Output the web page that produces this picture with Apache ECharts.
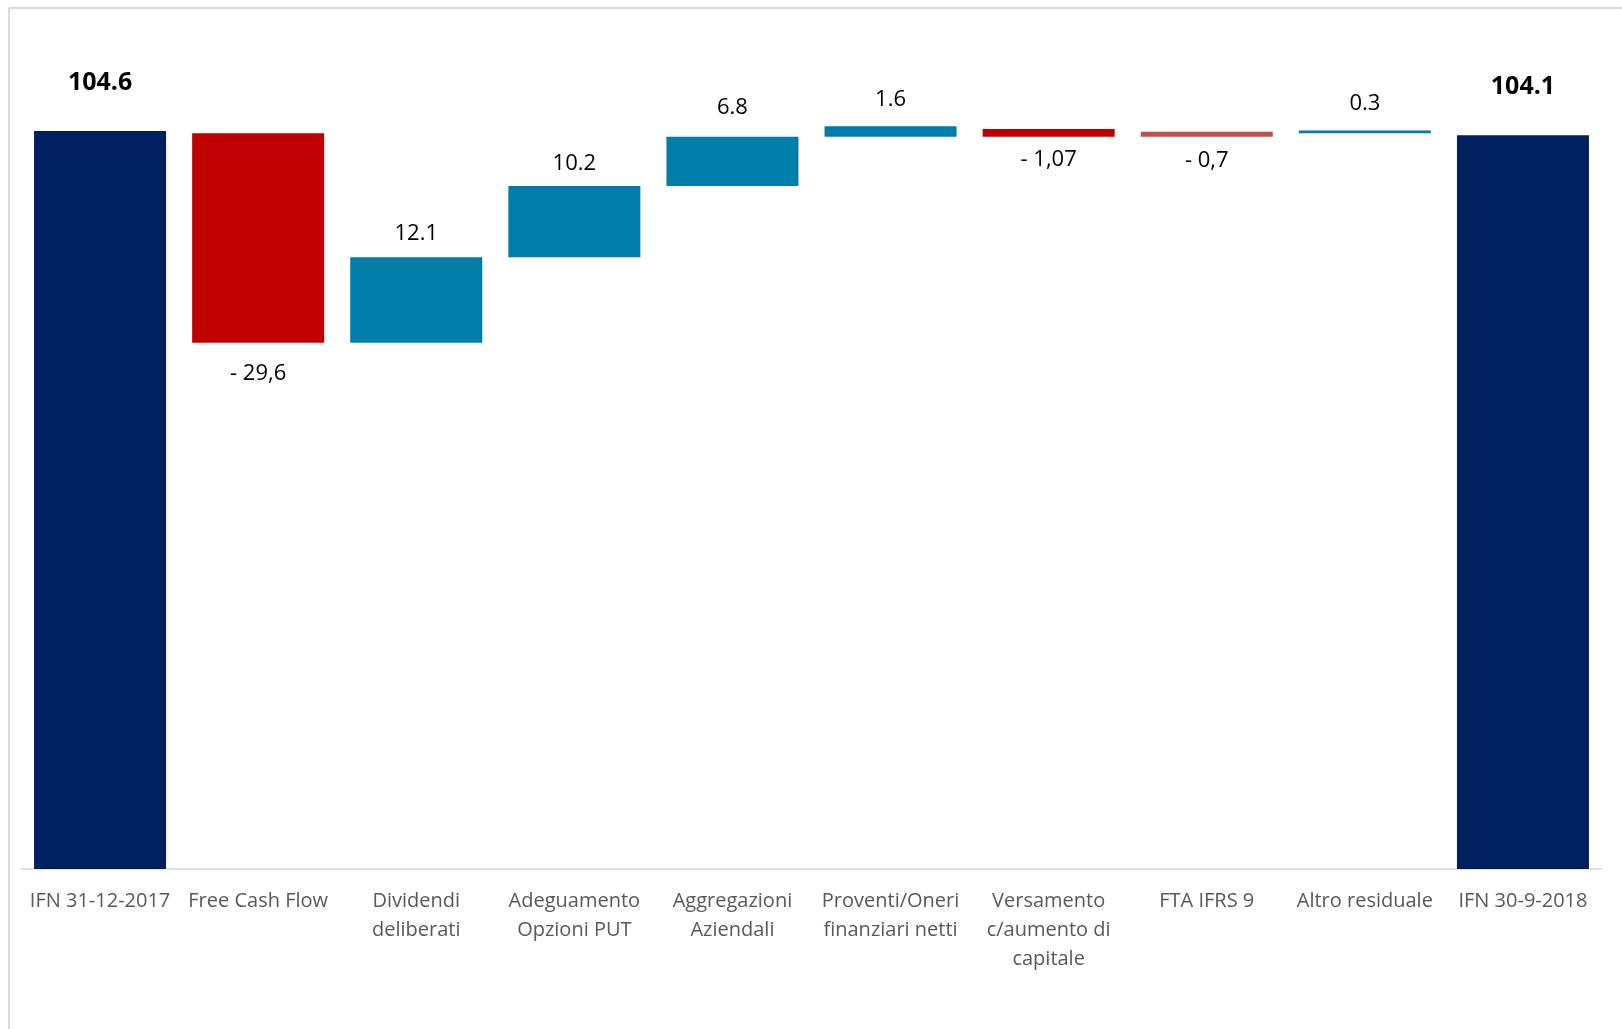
<!DOCTYPE html>
<html>
<head>
<meta charset="utf-8">
<script src="https://cdn.jsdelivr.net/npm/echarts@6/dist/echarts.min.js"></script>
<style>
  html, body { margin: 0; padding: 0; background: #fff; }
  #chart { width: 1622px; height: 1029px; }
</style>
</head>
<body>
<div id="chart"></div>
<script>
// categorie (a capo come nel grafico originale)
const categories = [
  "IFN 31-12-2017",
  "Free Cash Flow",
  "Dividendi\ndeliberati",
  "Adeguamento\nOpzioni PUT",
  "Aggregazioni\nAziendali",
  "Proventi/Oneri\nfinanziari netti",
  "Versamento\nc/aumento di\ncapitale",
  "FTA IFRS 9",
  "Altro residuale",
  "IFN 30-9-2018"
];
// variazioni
const values = [104.6, -29.6, 12.1, 10.2, 6.8, 1.6, -1.07, -0.7, 0.3, 104.1];
// etichette come scritte nel grafico
const valueLabels = ["104.6", "- 29,6", "12.1", "10.2", "6.8", "1.6", "- 1,07", "- 0,7", "0.3", "104.1"];
// estremi delle barre
const barLow = [0, 74.6, 74.6, 86.7, 96.8, 103.8, 103.8, 103.8, 104.3, 0];
const barHigh = [104.6, 104.3, 86.7, 96.8, 103.8, 105.3, 104.9, 104.5, 104.7, 104.0];

// stile
const colors = ["#002060", "#C00000", "#007DA8", "#007DA8", "#007DA8", "#007DA8", "#C00000", "#C0504D", "#007DA8", "#002060"];
const labelGap = [36, 20, 13, 11, 18, 15, 12, 13, 16, 36];

const chart = echarts.init(document.getElementById("chart"));

const deltaData = values.map((v, i) => {
  const total = i === 0 || i === values.length - 1;
  return {
    value: +(barHigh[i] - barLow[i]).toFixed(2),
    itemStyle: { color: colors[i] },
    label: {
      position: v < 0 ? "bottom" : "top",
      distance: labelGap[i],
      fontWeight: total ? "bold" : "normal",
      fontSize: total ? 25 : 22
    }
  };
});

chart.setOption({
  animation: false,
  textStyle: { fontFamily: "Open Sans" },
  graphic: [
    { type: "line", shape: { x1: 9, y1: 8, x2: 9, y2: 1029 }, style: { stroke: "#d9d9d9", lineWidth: 2 } },
    { type: "line", shape: { x1: 9, y1: 8, x2: 1622, y2: 8 }, style: { stroke: "#d9d9d9", lineWidth: 2 } }
  ],
  grid: { left: 21, right: 20, top: 93, bottom: 160 },
  xAxis: {
    type: "category",
    data: categories,
    axisLine: { lineStyle: { color: "#d9d9d9", width: 1.5 } },
    axisTick: { show: false },
    axisLabel: {
      color: "#595959",
      fontSize: 20,
      lineHeight: 29,
      margin: 18,
      interval: 0
    }
  },
  yAxis: {
    type: "value",
    min: 0,
    max: 110,
    show: false,
    splitLine: { show: false }
  },
  series: [
    {
      name: "base",
      type: "bar",
      stack: "wf",
      data: barLow,
      itemStyle: { color: "transparent" },
      barCategoryGap: "16.5%",
      silent: true
    },
    {
      name: "delta",
      type: "bar",
      stack: "wf",
      data: deltaData,
      barCategoryGap: "16.5%",
      label: {
        show: true,
        color: "#000",
        formatter: (p) => valueLabels[p.dataIndex]
      }
    }
  ]
});
</script>
</body>
</html>
